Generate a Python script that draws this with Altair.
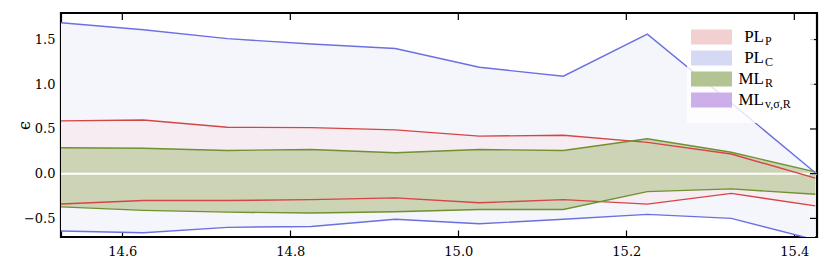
import altair as alt
import pandas as pd

# ---- data ----
x_vals = [14.525, 14.625, 14.725, 14.825, 14.925, 15.025, 15.125, 15.225, 15.325, 15.425]
plc_hi = [1.69, 1.61, 1.51, 1.45, 1.40, 1.19, 1.09, 1.56, 0.79, 0.01]
plc_lo = [-0.64, -0.66, -0.60, -0.59, -0.51, -0.56, -0.51, -0.455, -0.50, -0.74]
plp_hi = [0.59, 0.60, 0.52, 0.515, 0.49, 0.42, 0.43, 0.35, 0.22, -0.05]
plp_lo = [-0.34, -0.30, -0.30, -0.29, -0.27, -0.325, -0.29, -0.34, -0.22, -0.36]
mlr_hi = [0.29, 0.285, 0.26, 0.27, 0.235, 0.27, 0.26, 0.39, 0.24, 0.02]
mlr_lo = [-0.37, -0.41, -0.43, -0.44, -0.425, -0.40, -0.40, -0.20, -0.17, -0.23]

x_ticks = [14.6, 14.8, 15.0, 15.2, 15.4]
y_ticks = [-0.5, 0.0, 0.5, 1.0, 1.5]

legend_main = ["PL", "PL", "ML", "ML"]
legend_sub = ["P", "C", "R", "v,σ,R"]
legend_colors = ["#f2d0d0", "#d6d9f4", "#b3c493", "#ccaee9"]

df = pd.DataFrame({
    "x": x_vals, "plc_hi": plc_hi, "plc_lo": plc_lo,
    "plp_hi": plp_hi, "plp_lo": plp_lo, "mlr_hi": mlr_hi, "mlr_lo": mlr_lo,
})

XDOM = [14.527, 15.427]
YDOM = [-0.708, 1.797]
xs = alt.Scale(domain=XDOM, nice=False, zero=False)
ys = alt.Scale(domain=YDOM, nice=False, zero=False)
FONT = "DejaVu Serif"
FS = 13

base = alt.Chart(df)

plc_area = base.mark_area(color="#f5f6fc", opacity=1, clip=True).encode(
    x=alt.X("x:Q", scale=xs,
            axis=alt.Axis(values=x_ticks, format=".1f", labelPadding=8, title=None)),
    y=alt.Y("plc_lo:Q", scale=ys,
            axis=alt.Axis(values=y_ticks, format=".1f", labelPadding=6, title="ϵ",
                          titleX=-44, titleY=112, titleAngle=-90,
                          titleAlign="center", titleBaseline="middle")),
    y2="plc_hi:Q",
)
plp_area = base.mark_area(color="#f5edf2", opacity=1, clip=True).encode(
    x=alt.X("x:Q"), y=alt.Y("plp_lo:Q"), y2="plp_hi:Q",
)
mlr_area = base.mark_area(color="#cdd3b5", opacity=1, clip=True).encode(
    x=alt.X("x:Q"), y=alt.Y("mlr_lo:Q"), y2="mlr_hi:Q",
)

zero_rule = alt.Chart(alt.Data(values=[{"z": 0}])).mark_rule(color="white", strokeWidth=2).encode(
    y=alt.Y("z:Q")
)

def line(col, color):
    return base.mark_line(color=color, strokeWidth=1.4, clip=True).encode(
        x=alt.X("x:Q"), y=alt.Y(f"{col}:Q"),
    )

lines = [
    line("plc_hi", "#6b70e0"), line("plc_lo", "#6b70e0"),
    line("plp_hi", "#d64545"), line("plp_lo", "#d64545"),
    line("mlr_hi", "#6f9130"), line("mlr_lo", "#6f9130"),
]

# mirrored tick marks on the top and right edges (inside the frame)
xt_df = pd.DataFrame({"t": x_ticks})
yt_df = pd.DataFrame({"t": y_ticks})
top_ticks = alt.Chart(xt_df).mark_rule(color="black", strokeWidth=1.2).encode(
    x=alt.X("t:Q"), y=alt.value(0), y2=alt.value(7))
right_ticks = alt.Chart(yt_df).mark_rule(color="black", strokeWidth=1.2).encode(
    y=alt.Y("t:Q"), x=alt.value(749), x2=alt.value(756))

# ---- legend (drawn as decoration inside the plot) ----
one = alt.Data(values=[{}])
leg_layers = [
    alt.Chart(one).mark_rect(color="white", opacity=0.8).encode(
        x=alt.value(626), x2=alt.value(753), y=alt.value(12), y2=alt.value(110))
]
for i, (m, s, c) in enumerate(zip(legend_main, legend_sub, legend_colors)):
    cy = 24 + 21 * i
    leg_layers.append(alt.Chart(one).mark_rect(color=c).encode(
        x=alt.value(630), x2=alt.value(671), y=alt.value(cy - 7.5), y2=alt.value(cy + 7.5)))
    leg_layers.append(alt.Chart(one).mark_text(
        text=m, font="Liberation Serif", fontSize=17, color="black",
        align="right", baseline="alphabetic").encode(x=alt.value(703), y=alt.value(cy + 5)))
    leg_layers.append(alt.Chart(one).mark_text(
        text=s, font="Liberation Serif", fontSize=12, color="black",
        align="left", baseline="alphabetic").encode(x=alt.value(704), y=alt.value(cy + 8)))

chart = alt.layer(plc_area, plp_area, mlr_area, zero_rule, *lines, top_ticks, right_ticks,
                  *leg_layers).properties(
    width=756, height=224,
    autosize=alt.AutoSizeParams(type="none"),
    padding={"left": 53, "top": 5, "right": 4, "bottom": 24},
).configure_view(stroke="black", strokeWidth=2.2
).configure_axis(
    labelFont=FONT, labelFontSize=FS, labelColor="black",
    titleFont=FONT, titleFontSize=16, titleFontWeight="normal", titleColor="black",
    domain=False, grid=False, offset=-7, tickSize=7, tickColor="black", tickWidth=1.2,
).configure_scale(zero=False)

chart.save("out.html", embed_options={"renderer": "svg", "actions": False})
